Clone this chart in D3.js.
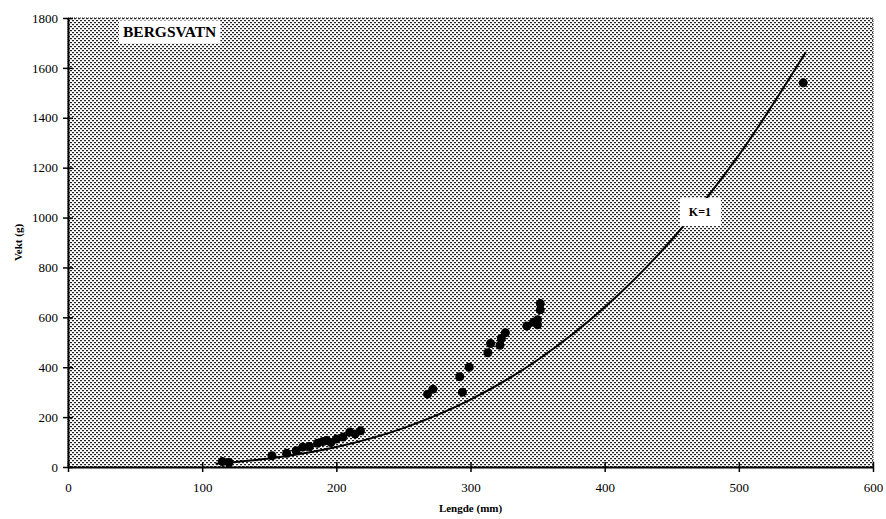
<!doctype html><html><head>
<style>
  body { margin: 0; background: #fff; }
  text { font-family: "Liberation Serif", "Times New Roman", serif; fill: #000; }
</style>
</head><body><script src='https://d3js.org/d3.v7.min.js'></script>

<script>
// Dimensions
const W = 886, H = 519;
const plotL = 68, plotR = 873, plotT = 18, plotB = 467;

// Observed fish: length (mm) and weight (g)
const obsLength = [115, 120, 152, 163, 170, 175, 180, 186, 190, 193, 196, 200, 205, 210, 214, 218,
                   268, 272, 292, 294, 299, 313, 315, 322, 323, 326, 342, 347, 350, 350, 352, 352, 548];
const obsWeight = [22, 18, 45, 55, 65, 80, 82, 95, 102, 106, 98, 112, 120, 140, 132, 145,
                   292, 312, 362, 300, 400, 458, 495, 488, 515, 538, 565, 580, 590, 570, 630, 655, 1540];

// K=1 reference curve
const curveLength = [110, 150, 200, 250, 300, 350, 400, 450, 500, 550];
const curveWeight = [13, 34, 80, 156, 270, 429, 640, 911, 1250, 1664];

const xTicks = [0, 100, 200, 300, 400, 500, 600];
const yTicks = [0, 200, 400, 600, 800, 1000, 1200, 1400, 1600, 1800];

const lakeName = "BERGSVATN";
const curveLabel = "K=1";
const curveLabelAt = [471, 1022];
const xTitle = "Lengde (mm)";
const yTitle = "Vekt (g)";

const svg = d3.select("body").append("svg")
  .attr("width", W).attr("height", H);

// stipple background
const defs = svg.append("defs");
const pat = defs.append("pattern")
  .attr("id", "stip").attr("patternUnits", "userSpaceOnUse")
  .attr("width", 4).attr("height", 4);
pat.append("rect").attr("width", 4).attr("height", 4).attr("fill", "#fff");
pat.append("rect").attr("x", 0).attr("y", 0).attr("width", 2).attr("height", 1).attr("fill", "#222");
pat.append("rect").attr("x", 0).attr("y", 1).attr("width", 2).attr("height", 1).attr("fill", "#ccc");
pat.append("rect").attr("x", 2).attr("y", 2).attr("width", 2).attr("height", 1).attr("fill", "#222");
pat.append("rect").attr("x", 2).attr("y", 3).attr("width", 2).attr("height", 1).attr("fill", "#ccc");

const x = d3.scaleLinear().domain([0, 600]).range([plotL, plotR]);
const y = d3.scaleLinear().domain([0, 1800]).range([plotB, plotT]);

svg.append("rect")
  .attr("x", plotL).attr("y", plotT)
  .attr("width", plotR - plotL).attr("height", plotB - plotT)
  .attr("fill", "url(#stip)")
  .attr("stroke", "#222").attr("stroke-width", 1)
  .attr("stroke-dasharray", "1,1");

// curve
const curvePts = curveLength.map((d, i) => [d, curveWeight[i]]);
svg.append("path")
  .datum(curvePts)
  .attr("fill", "none")
  .attr("stroke", "#000")
  .attr("stroke-width", 2)
  .attr("d", d3.line()
    .x(d => x(d[0]))
    .y(d => y(d[1]))
    .curve(d3.curveMonotoneX));

// points
svg.append("g").selectAll("circle")
  .data(obsLength.map((d, i) => [d, obsWeight[i]]))
  .join("circle")
  .attr("cx", d => x(d[0]))
  .attr("cy", d => y(d[1]))
  .attr("r", 4.5)
  .attr("fill", "#000");

// K=1 label with white box
const kx = x(curveLabelAt[0]), ky = y(curveLabelAt[1]);
svg.append("rect")
  .attr("x", kx - 20).attr("y", ky - 14)
  .attr("width", 41).attr("height", 28)
  .attr("fill", "#fff");
svg.append("text")
  .attr("x", kx).attr("y", ky)
  .attr("dy", "0.35em")
  .attr("text-anchor", "middle")
  .attr("font-size", 12).attr("font-weight", "bold")
  .text(curveLabel);

// lake name label
const labelG = svg.append("g");
const lt = labelG.append("text")
  .attr("x", 123).attr("y", 32)
  .attr("dy", "0.35em")
  .attr("font-size", 15.5).attr("font-weight", "bold")
  .text(lakeName);
const bb = lt.node().getBBox();
labelG.insert("rect", "text")
  .attr("x", bb.x - 4).attr("y", bb.y - 3)
  .attr("width", bb.width + 8).attr("height", bb.height + 6)
  .attr("fill", "#fff");

// axes
const xAxis = svg.append("g")
  .attr("transform", `translate(0,${plotB})`)
  .call(d3.axisBottom(x).tickValues(xTicks).tickFormat(d3.format("d")).tickSizeOuter(0));
const yAxis = svg.append("g")
  .attr("transform", `translate(${plotL},0)`)
  .call(d3.axisLeft(y).tickValues(yTicks).tickFormat(d3.format("d")).tickSizeOuter(0));

xAxis.select(".domain").attr("stroke-width", 2);
yAxis.select(".domain").attr("stroke-width", 2);
xAxis.selectAll(".tick line").attr("y1", -5).attr("y2", 5).attr("stroke-width", 1.5);
yAxis.selectAll(".tick line").attr("x1", -5).attr("x2", 5).attr("stroke-width", 1.5);
xAxis.selectAll(".tick text")
  .attr("y", 21).attr("dy", "0.32em")
  .attr("font-family", "Liberation Serif").attr("font-size", 13);
yAxis.selectAll(".tick text")
  .attr("x", -10)
  .attr("font-family", "Liberation Serif").attr("font-size", 13);

// titles
svg.append("text")
  .attr("x", (plotL + plotR) / 2).attr("y", 508)
  .attr("dy", "0.35em")
  .attr("text-anchor", "middle")
  .attr("font-size", 11).attr("font-weight", "bold")
  .text(xTitle);
svg.append("text")
  .attr("transform", `translate(18,${(plotT + plotB) / 2}) rotate(-90)`)
  .attr("dy", "0.35em")
  .attr("text-anchor", "middle")
  .attr("font-size", 11).attr("font-weight", "bold")
  .text(yTitle);
</script></body></html>
